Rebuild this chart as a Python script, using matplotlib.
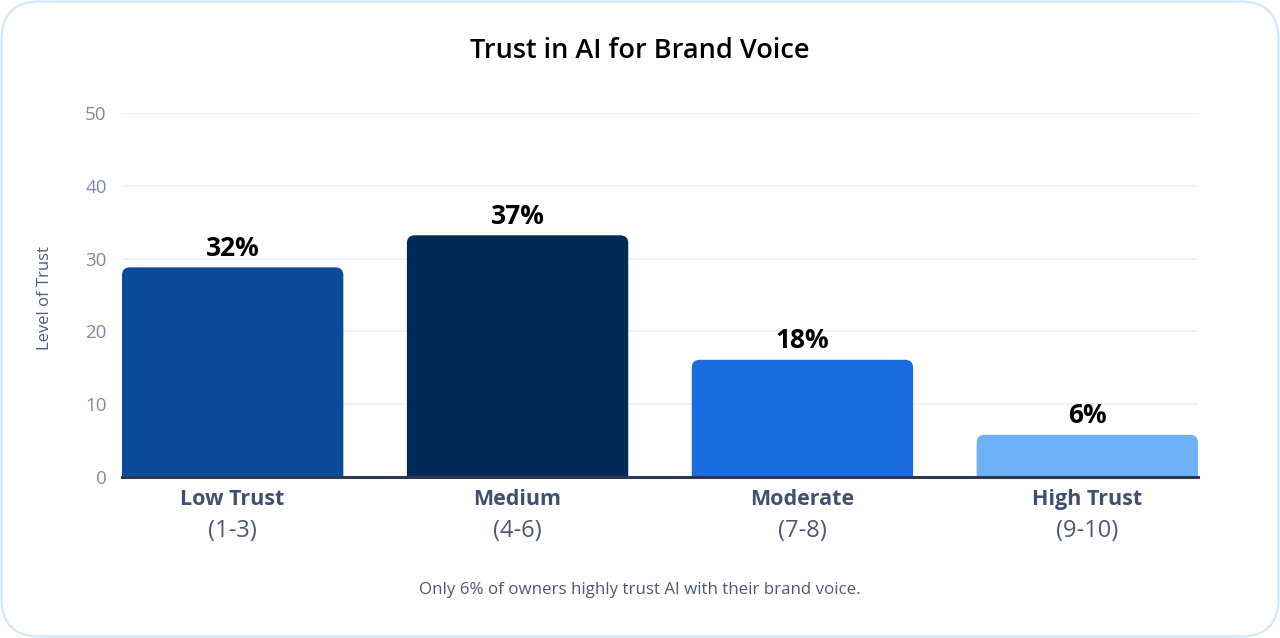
import numpy as np
import matplotlib
matplotlib.use("Agg")
import matplotlib.pyplot as plt
from matplotlib.patches import FancyBboxPatch, PathPatch
from matplotlib.path import Path

plt.rcParams["font.family"] = ["Open Sans", "DejaVu Sans"]

# data
categories = ["Low Trust", "Medium", "Moderate", "High Trust"]
ranges = ["(1-3)", "(4-6)", "(7-8)", "(9-10)"]
bar_heights = [28.8, 33.2, 16.1, 5.8]
value_labels = ["32%", "37%", "18%", "6%"]
bar_colors = ["#0d4a99", "#012a57", "#1a6de0", "#6db2f9"]
y_ticks = [0, 10, 20, 30, 40, 50]

W, H = 1280, 638
fig = plt.figure(figsize=(W / 100, H / 100), dpi=100)
fig.patch.set_facecolor("white")

# card background with rounded border
bg = fig.add_axes([0, 0, 1, 1])
bg.set_xlim(0, W)
bg.set_ylim(0, H)
bg.axis("off")
card = FancyBboxPatch((1.5, 1.5), W - 3, H - 3,
                      boxstyle="round,pad=0,rounding_size=38",
                      fc="white", ec="#d3e8f8", lw=1.6)
bg.add_patch(card)

# plot area: x 122..1198 px, y 113..477 px (from top)
ax = fig.add_axes([122 / W, 1 - 477 / H, (1198 - 122) / W, (477 - 113) / H])
ax.set_facecolor("none")
x = np.arange(len(categories))
bw = 0.777
bars = ax.bar(x, bar_heights, width=bw, color=bar_colors, zorder=2)
ax.set_xlim(-bw / 2, len(categories) - 1 + bw / 2)
ax.set_ylim(0, 50)

# replace square bars with top-rounded ones
px_x = (1198 - 122) / (len(categories) - 1 + bw)
px_y = (477 - 113) / 50.0
r = 8.0
rx, ry = r / px_x, r / px_y
for b in bars:
    x0, w, h = b.get_x(), b.get_width(), b.get_height()
    x1 = x0 + w
    verts = [(x0, 0), (x0, h - ry), (x0, h), (x0 + rx, h),
             (x1 - rx, h), (x1, h), (x1, h - ry), (x1, 0), (x0, 0)]
    codes = [Path.MOVETO, Path.LINETO, Path.CURVE3, Path.CURVE3,
             Path.LINETO, Path.CURVE3, Path.CURVE3, Path.LINETO, Path.CLOSEPOLY]
    ax.add_patch(PathPatch(Path(verts, codes), fc=b.get_facecolor(), ec="none", zorder=2))
    b.set_visible(False)

for xi, h, lab in zip(x, bar_heights, value_labels):
    ax.annotate(lab, (xi, h), xytext=(0, 4), textcoords="offset points",
                ha="center", va="bottom", fontsize=19, fontweight="bold", color="black")

ax.set_yticks(y_ticks)
ax.yaxis.grid(True, color="#edf2f9", lw=1.5, zorder=0)
ax.set_axisbelow(True)
for s in ["top", "right", "left"]:
    ax.spines[s].set_visible(False)
ax.spines["bottom"].set_color("#2b3850")
ax.spines["bottom"].set_linewidth(2.2)
ax.tick_params(axis="y", length=0, pad=11, labelsize=13.5, labelcolor="#7d8ca6")
ax.tick_params(axis="x", length=0)
ax.set_xticks(x)
ax.set_xticklabels([""] * len(x))

for xi, cat, rng in zip(x, categories, ranges):
    ax.annotate(cat, (xi, 0), xytext=(0, -16), textcoords="offset points",
                ha="center", va="center", fontsize=15.5, fontweight="bold", color="#3f5070")
    ax.annotate(rng, (xi, 0), xytext=(0, -39), textcoords="offset points",
                ha="center", va="center", fontsize=17, color="#4a5a75")

fig.text(45 / W, 1 - 298 / H, "Level of Trust", rotation=90, ha="center", va="center",
         fontsize=12, color="#4d5d7a")
fig.text(640 / W, 1 - 51 / H, "Trust in AI for Brand Voice", ha="center", va="center",
         fontsize=19.5, fontweight="semibold", color="black")
fig.text(640 / W, 1 - 590 / H, "Only 6% of owners highly trust AI with their brand voice.",
         ha="center", va="center", fontsize=12.2, color="#4a5a75")

fig.savefig("out.png", dpi=100, facecolor="white")
